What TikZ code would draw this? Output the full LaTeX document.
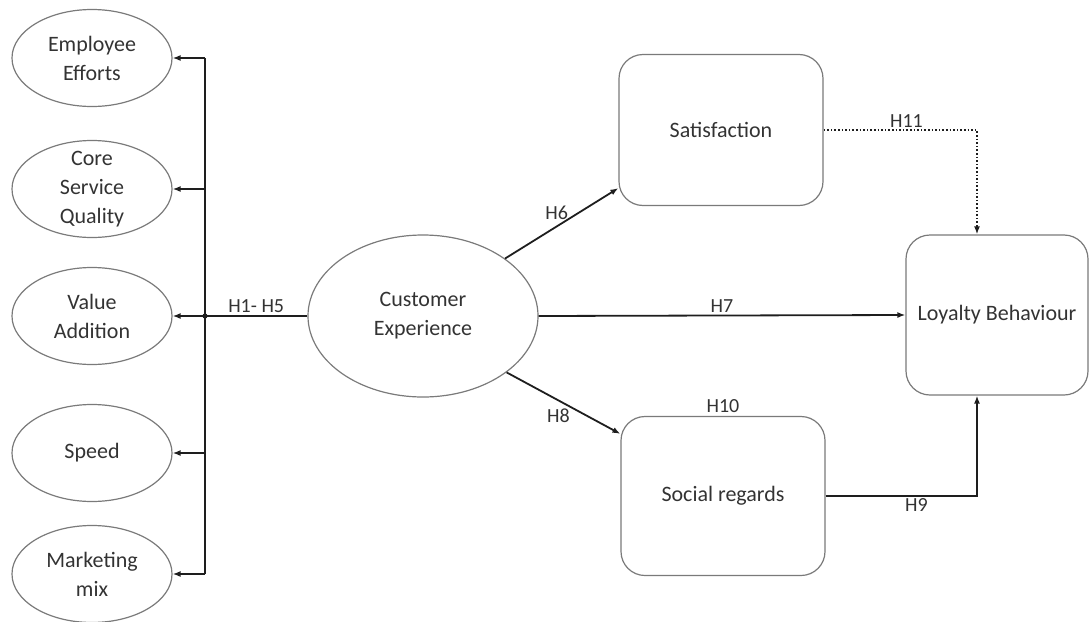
\documentclass[tikz,border=0pt]{standalone}
\usepackage{fontspec}
\setmainfont{Carlito}
\usetikzlibrary{shapes.geometric,arrows.meta,calc}
\definecolor{txt}{HTML}{333333}
\definecolor{edge}{HTML}{7A7A7A}
\definecolor{conn}{HTML}{1E1E1E}
\begin{document}
\begin{tikzpicture}[x=1pt,y=-1pt,
  every node/.style={text=txt},
  ell/.style={draw=edge,line width=1.2pt,ellipse,inner sep=0pt,minimum width=160pt,minimum height=97pt},
  etxt/.style={font=\fontsize{22}{29}\selectfont,align=center,text=txt,inner sep=0pt},
  bigell/.style={draw=edge,line width=1.2pt,ellipse,inner sep=0pt,minimum width=230pt,minimum height=162pt,font=\fontsize{22}{29}\selectfont,align=center},
  rbox/.style={draw=edge,line width=1.2pt,rounded corners=24pt,inner sep=0pt,font=\fontsize{22}{29}\selectfont,align=center},
  link/.style={draw=conn,line width=1.8pt},
  arr/.style={link,-{Latex[length=8pt,width=6pt]}},
  dotarr/.style={draw=conn,line width=1.6pt,dotted,-{Latex[length=8pt,width=6pt]}},
  lbl/.style={font=\fontsize{20}{24}\selectfont,text=txt,inner sep=2pt}
]
\useasboundingbox (0,0) rectangle (1089,621);

% left constructs
\node[ell,label={[etxt]center:Employee\\Efforts}] (ee) at (92,58) {};
\node[ell,label={[etxt]center:Core\\Service\\Quality}] (csq) at (92,189) {};
\node[ell,label={[etxt]center:Value\\Addition}] (va) at (92,316) {};
\node[ell,label={[etxt]center:Speed}] (sp) at (92,453) {};
\node[ell,label={[etxt]center:Marketing\\mix}] (mm) at (92,574) {};

% central construct
\node[bigell] (ce) at (423,316) {Customer\\Experience};

% outcome constructs
\node[rbox,minimum width=204pt,minimum height=151pt] (sat) at (721,130) {Satisfaction};
\node[rbox,minimum width=182pt,minimum height=160pt] (loy) at (997,315) {Loyalty Behaviour};
\node[rbox,minimum width=204pt,minimum height=159pt] (soc) at (723,496) {Social regards};

% bus on the left
\coordinate (bt) at (205,58);
\coordinate (bb) at (205,574);
\coordinate (bj) at (bt |- ce.west);
\draw[link] (bt) -- (bb);
\fill[conn] (bj) circle (2.6pt);
\draw[link] (ce.west) -- node[lbl,above] (h15) {H1- H5} (bj);
\draw[arr] (bt) -- (ee.east);
\draw[arr] (bt |- csq.east) -- (csq.east);
\draw[arr] (bj) -- (va.east);
\draw[arr] (bt |- sp.east) -- (sp.east);
\draw[arr] (bb) -- (mm.east);

% paths from customer experience
\coordinate (satin) at ($(sat.south west)+(0,-18)$);
\coordinate (socin) at ($(soc.north west)+(0,18)$);
\draw[arr] (ce.35) -- node[lbl,midway,above=1pt,xshift=-5pt] (h6) {H6} (satin);
\draw[arr] (ce.east) -- node[lbl,midway,above] (h7) {H7} (loy.west);
\draw[arr] (ce.-34) -- node[lbl,midway,below=3pt,xshift=-5pt] (h8) {H8} (socin);

% to loyalty
\coordinate (loytop) at ($(loy.north)+(-20,0)$);
\coordinate (loybot) at ($(loy.south)+(-20,0)$);
\draw[dotarr] (sat.east) -| node[lbl,pos=0.27,above] (h11) {H11} (loytop);
\draw[arr] (soc.east) -| node[lbl,pos=0.3,below] (h9) {H9} (loybot);
\node[lbl,anchor=south] (h10) at ($(soc.north)+(0,-1)$) {H10};
\end{tikzpicture}
\end{document}
